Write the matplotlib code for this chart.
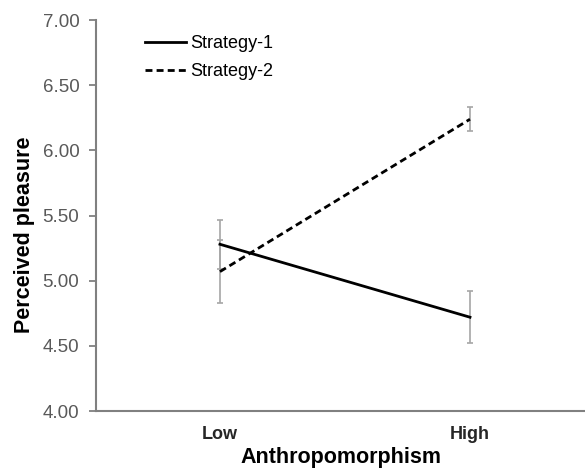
import numpy as np
import matplotlib
matplotlib.use("Agg")
import matplotlib.pyplot as plt

plt.rcParams['font.family'] = ['Liberation Sans', 'DejaVu Sans']

levels = ['Low', 'High']
strategy1 = [5.28, 4.72]
strategy1_err = [0.19, 0.20]
strategy2 = [5.07, 6.24]
strategy2_err = [0.24, 0.09]
yticks = [4.00, 4.50, 5.00, 5.50, 6.00, 6.50, 7.00]

fig = plt.figure(figsize=(5.85, 4.70), dpi=100)
ax = fig.add_axes([0.164, 0.1255, 0.836, 0.8315])

x = np.arange(len(levels))
ax.errorbar(x, strategy1, yerr=strategy1_err, fmt='none', ecolor='#a6a6a6',
            elinewidth=1.2, capsize=2.5, capthick=1.2, zorder=1)
ax.errorbar(x, strategy2, yerr=strategy2_err, fmt='none', ecolor='#a6a6a6',
            elinewidth=1.2, capsize=2.5, capthick=1.2, zorder=1)
ax.plot(x, strategy1, color='black', lw=2, label='Strategy-1', zorder=3)
ax.plot(x, strategy2, color='black', lw=2, dashes=(2.5, 1.5),
        label='Strategy-2', zorder=3)

ax.set_xlim(-0.496, 1.46)
ax.set_ylim(4.0, 7.0)
ax.set_yticks(yticks)
ax.set_yticklabels(['%.2f' % v for v in yticks], fontsize=13.5, color='#595959')
ax.set_xticks(x)
ax.set_xticklabels(levels, fontsize=13, fontweight='bold', color='#262626')
ax.tick_params(axis='x', length=0, pad=11)
ax.tick_params(axis='y', length=5, width=1.3, color='#808080', pad=7)

for s in ['top', 'right']:
    ax.spines[s].set_visible(False)
for s in ['left', 'bottom']:
    ax.spines[s].set_color('#808080')
    ax.spines[s].set_linewidth(1.5)

ax.set_ylabel('Perceived pleasure', fontsize=15.5, fontweight='bold')
ax.yaxis.set_label_coords(-0.125, 0.45)
ax.set_xlabel('Anthropomorphism', fontsize=15.5, fontweight='bold', labelpad=3)

ax.legend(loc='upper left', bbox_to_anchor=(0.067, 1.003), frameon=False,
          fontsize=13, handlelength=2.3, handletextpad=0.2, labelspacing=0.62)

fig.savefig('out.png', dpi=100)
